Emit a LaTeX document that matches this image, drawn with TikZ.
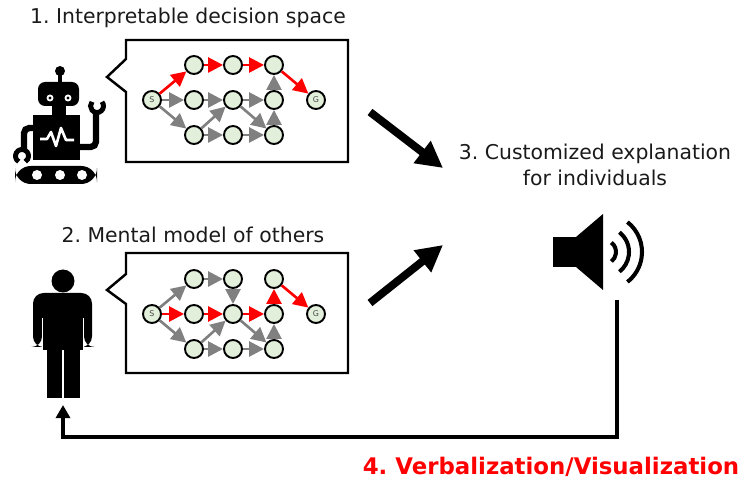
\documentclass[tikz,border=0pt]{standalone}
\usepackage{fontspec}
\setmainfont{DejaVu Sans}
\usetikzlibrary{arrows.meta}

\definecolor{nodegreen}{HTML}{E2EFDA}
\definecolor{edgegray}{HTML}{808080}
\definecolor{txtdark}{HTML}{1A1A1A}

\begin{document}
\frenchspacing
\begin{tikzpicture}[x=0.02cm, y=-0.02cm,
  st/.style={circle, draw, line width=1.1pt, fill=nodegreen, minimum size=0.36cm,
    inner sep=0pt, text=txtdark!80, font=\fontsize{4.5}{5}\selectfont},
  ge/.style={-{Triangle[length=8.5pt,width=8.5pt]}, line width=1.5pt, edgegray},
  re/.style={ge, red},
  bubble/.style={line width=1.4pt, line join=miter},
  txt/.style={text=txtdark, font=\fontsize{11.6}{14.5}\selectfont, align=center},
  bigarrow/.style={-{Triangle[length=15pt,width=15pt]}, line width=4.5pt},
  feedback/.style={-{Triangle[length=7.5pt,width=8pt]}, line width=2.2pt}]
			\useasboundingbox (0,0) rectangle (746,482);

			% Titles
			\node[txt] (title-a) at (188,18) {1. Interpretable decision space};
			\node[txt] (title-b) at (193,235) {2. Mental model of others};
			\node[txt] (expl) at (595,165) {3. Customized explanation\\for individuals};
			\node[font=\bfseries\fontsize{13}{15}\selectfont, red] (verb) at (551,467) {4. Verbalization/Visualization};

			% Speech bubbles
			\draw[bubble] (126,40) -- (348,40) -- (348,162) -- (126,162) -- (126,92) -- (107,77) -- (126,59) -- cycle;
			\draw[bubble] (126,253) -- (348,253) -- (348,373) -- (126,373) -- (126,304) -- (107,290) -- (126,274) -- cycle;

			% Decision graph of the robot
			\node[st] (a-s) at (152,100) {S};
			\node[st] (a-g) at (316,100) {G};
			\foreach \r/\y in {t/65,m/100,b/135}
				\foreach \c/\x in {1/194,2/233,3/274}
					\node[st] (a-\r\c) at (\x,\y) {};
			\draw[re] (a-s) -- (a-t1);
			\draw[re] (a-t1) -- (a-t2);
			\draw[re] (a-t2) -- (a-t3);
			\draw[re] (a-t3) -- (a-g);
			\draw[ge] (a-s) -- (a-m1);
			\draw[ge] (a-s) -- (a-b1);
			\draw[ge] (a-m1) -- (a-m2);
			\draw[ge] (a-m2) -- (a-m3);
			\draw[ge] (a-m2) -- (a-b3);
			\draw[ge] (a-b1) -- (a-m2);
			\draw[ge] (a-b1) -- (a-b2);
			\draw[ge] (a-b2) -- (a-b3);
			\draw[ge] (a-b3) -- (a-m3);
			\draw[ge] (a-m3) -- (a-t3);

			% Decision graph as the human sees it
			\node[st] (b-s) at (152,314) {S};
			\node[st] (b-g) at (316,314) {G};
			\foreach \r/\y in {t/279,m/314,b/349}
				\foreach \c/\x in {1/194,2/233,3/274}
					\node[st] (b-\r\c) at (\x,\y) {};
			\draw[ge] (b-s) -- (b-t1);
			\draw[ge] (b-t1) -- (b-t2);
			\draw[ge] (b-t2) -- (b-m2);
			\draw[ge] (b-s) -- (b-b1);
			\draw[ge] (b-b1) -- (b-m2);
			\draw[ge] (b-b1) -- (b-b2);
			\draw[ge] (b-b2) -- (b-b3);
			\draw[ge] (b-m2) -- (b-b3);
			\draw[ge] (b-b3) -- (b-m3);
			\draw[re] (b-s) -- (b-m1);
			\draw[re] (b-m1) -- (b-m2);
			\draw[re] (b-m2) -- (b-m3);
			\draw[re] (b-m3) -- (b-t3);
			\draw[re] (b-t3) -- (b-g);

			% Robot
			\draw[line width=1.8pt] (60,71) -- (60,84);
			\fill (60,71) circle (5);
			\fill[rounded corners=4] (38,82) rectangle (79,106);
			\fill[white] (50,98) circle (3.5) (68,98) circle (3.5);
			\fill (50,98) circle (1.6) (68,98) circle (1.6);
			\fill (52,104) rectangle (66,116);
			\fill (33,115) rectangle (80,160);
			\draw[white, line width=1.5pt, line join=round] (40,139) -- (47,139) -- (51,132) -- (56,146) -- (61,128) -- (66,140) -- (74,140);
			\draw[line width=3.6pt, rounded corners=3] (34,128) -- (24,128) -- (24,150);
			\draw[line width=2.8pt] (22,156) ++(120:6.5) arc (120:420:6.5);
			\draw[line width=3.6pt, rounded corners=3] (79,147) -- (96,147) -- (96,112);
			\draw[line width=2.8pt] (97,106) ++(-40:6.5) arc (-40:220:6.5);
			\fill[rounded corners=9] (15,166) rectangle (97,184);
			\fill[white] (37,175) circle (5) (60,175) circle (5) (82,175) circle (5);

			% Human
			\fill (63,281) circle (11.5);
			\fill[rounded corners=6] (33,347) -- (33,293) -- (92,293) -- (92,347) -- (84,347) -- (84,313) -- (42,313) -- (42,347) -- cycle;
			\fill (43,300) rectangle (83,350);
			\fill (47,345) rectangle (62,398);
			\fill (64,345) rectangle (80,398);
			\draw[white, line width=0.8pt] (42.5,318) -- (42.5,350) (83.5,318) -- (83.5,350);

			% Speaker
			\fill (553,237) rectangle (578,267);
			\fill (576,237) -- (603,214) -- (603,290) -- (576,267) -- cycle;
			\foreach \rad in {12,25,38}
				\draw[line width=2.3pt] (604,252) ++(-52:\rad) arc (-52:52:\rad);

			% Arrows into the explanation
			\coordinate (a-out) at (370,112);
			\coordinate (b-out) at (370,303);
			\coordinate (expl-in1) at (443,168);
			\coordinate (expl-in2) at (443,245);
			\draw[bigarrow] (a-out) -- (expl-in1);
			\draw[bigarrow] (b-out) -- (expl-in2);

			% Feedback to the human
			\coordinate (spk-foot) at (617,300);
			\coordinate (turn) at (617,437);
			\coordinate (man-foot) at (63,405);
			\draw[feedback] (spk-foot) -- (turn) -| (man-foot);
		\end{tikzpicture}
\end{document}
